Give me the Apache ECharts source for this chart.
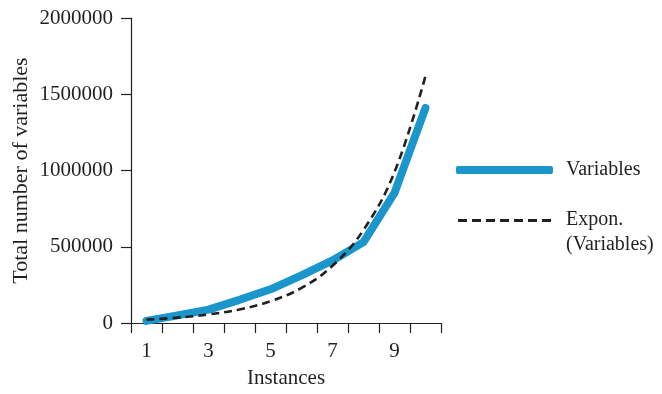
<!DOCTYPE html>
<html>
<head>
<meta charset="utf-8">
<script src="https://cdn.jsdelivr.net/npm/echarts@6/dist/echarts.min.js"></script>
<style>
html, body { margin: 0; padding: 0; background: #fff; }
#chart { width: 662px; height: 394px; }
</style>
</head>
<body>
<div id="chart"></div>
<script>
var instances = ['1', '2', '3', '4', '5', '6', '7', '8', '9', '10'];
var variables = [14000, 50000, 88000, 152000, 221000, 312000, 410000, 530000, 854000, 1410000];
var exponTrend = [22000, 35000, 56000, 89000, 143000, 230000, 375000, 610000, 990000, 1620000];
var yTicks = [0, 500000, 1000000, 1500000, 2000000];

var font = 'Liberation Serif';
var ink = '#231f20';
var blue = '#1a96cc';
// seven short dashes near the top of a taller box, so the icon lines up with
// the first of the two legend text lines (tiny corner dots set the box size)
var dashIcon = 'path://M0,0h0.01v0.01h-0.01z M0,28h0.01v0.01h-0.01z' +
    ' M0,1h9v3h-9z M14,1h9v3h-9z M28,1h9v3h-9z M42,1h9v3h-9z' +
    ' M56,1h9v3h-9z M70,1h9v3h-9z M84,1h9v3h-9z';

var chart = {
    init: function () {
        var myChart = echarts.init(document.getElementById('chart'));
        myChart.setOption(this.buildOption());
    },
    buildOption: function () {
        return {
            animation: false,
            textStyle: { fontFamily: font, color: ink },
            grid: { left: 131, right: 221, top: 18, bottom: 68, containLabel: false },
            legend: [
                {
                    data: [{ name: 'Variables', icon: 'roundRect' }],
                    left: 456, top: 160, padding: 0,
                    itemWidth: 97, itemHeight: 8, itemGap: 10,
                    itemStyle: { color: blue },
                    textStyle: { fontFamily: font, fontSize: 20, color: ink, padding: [0, 0, 0, 8] }
                },
                {
                    data: [{ name: 'Expon. (Variables)', icon: dashIcon }],
                    left: 458, top: 207, padding: 0,
                    itemWidth: 93, itemHeight: 31, itemGap: 10,
                    itemStyle: { color: ink },
                    formatter: function () { return 'Expon.\n(Variables)'; },
                    textStyle: { fontFamily: font, fontSize: 20, color: ink, lineHeight: 25, padding: [0, 0, 0, 10] }
                }
            ],
            xAxis: {
                type: 'category',
                data: instances,
                name: 'Instances',
                nameLocation: 'middle',
                nameGap: 45,
                nameTextStyle: { fontFamily: font, fontSize: 21, color: ink },
                boundaryGap: true,
                axisLine: { lineStyle: { color: ink, width: 1.2 } },
                axisTick: { show: true, length: 10, alignWithLabel: false, interval: 0, lineStyle: { color: ink, width: 1.2 } },
                axisLabel: { interval: 1, margin: 18, fontFamily: font, fontSize: 21, color: ink },
                splitLine: { show: false }
            },
            yAxis: {
                type: 'value',
                min: yTicks[0],
                max: yTicks[yTicks.length - 1],
                interval: 500000,
                name: 'Total number of variables',
                nameLocation: 'middle',
                nameGap: 99,
                nameTextStyle: { fontFamily: font, fontSize: 22, color: ink },
                axisLine: { show: true, lineStyle: { color: ink, width: 1.2 } },
                axisTick: { show: true, length: 10, lineStyle: { color: ink, width: 1.2 } },
                axisLabel: { margin: 18, fontFamily: font, fontSize: 21, color: ink, formatter: function (v) { return String(v); } },
                splitLine: { show: false }
            },
            series: [
                {
                    name: 'Variables',
                    type: 'line',
                    data: variables,
                    symbol: 'none',
                    lineStyle: { color: blue, width: 8, cap: 'round', join: 'round' },
                    itemStyle: { color: blue }
                },
                {
                    name: 'Expon. (Variables)',
                    type: 'line',
                    data: exponTrend,
                    symbol: 'none',
                    smooth: 0.4,
                    lineStyle: { color: ink, width: 2.6, type: [8, 5] },
                    itemStyle: { color: ink }
                }
            ]
        };
    }
};
chart.init();
</script>
</body>
</html>
